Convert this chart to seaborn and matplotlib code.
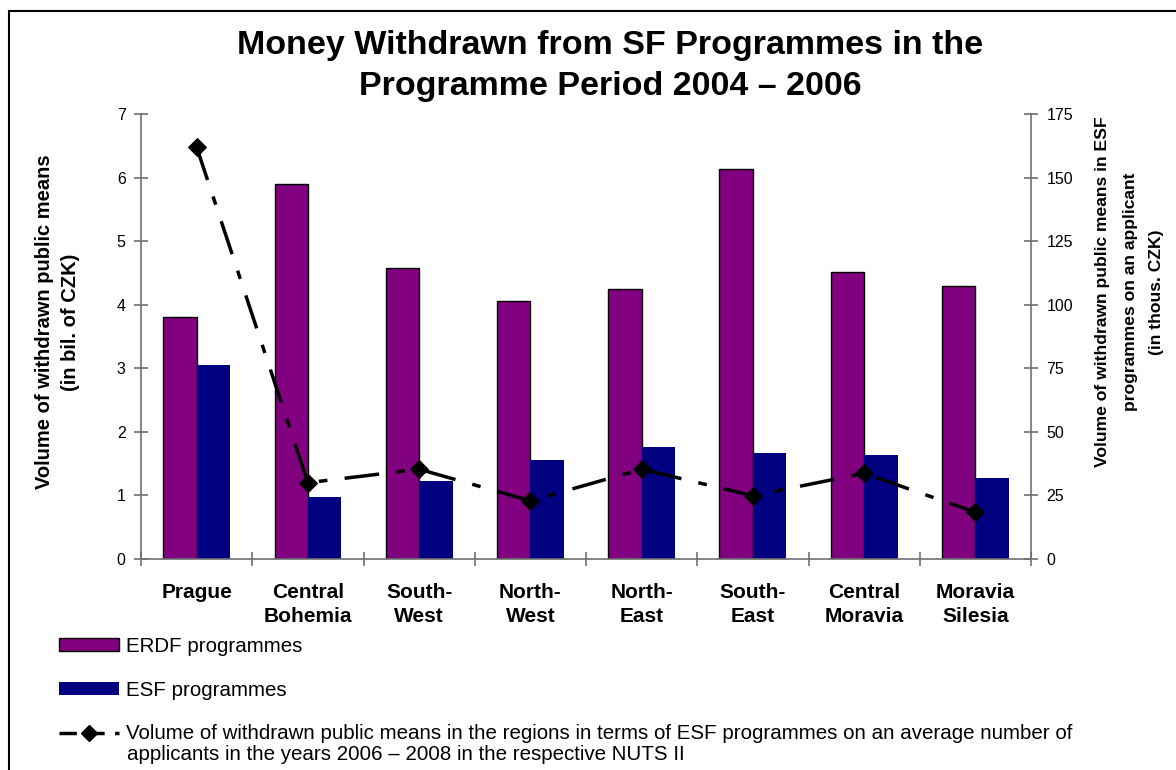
import matplotlib
matplotlib.use("Agg")
import matplotlib.pyplot as plt
import matplotlib.patches as mpatches
from matplotlib.lines import Line2D
import numpy as np
import pandas as pd
import seaborn as sns

# Regions (NUTS II) and the withdrawn volumes
regions = ["Prague", "Central\nBohemia", "South-\nWest", "North-\nWest",
           "North-\nEast", "South-\nEast", "Central\nMoravia", "Moravia\nSilesia"]
erdf_bil = [3.81, 5.90, 4.58, 4.06, 4.24, 6.13, 4.51, 4.30]
esf_bil = [3.05, 0.97, 1.23, 1.56, 1.76, 1.67, 1.64, 1.28]
esf_per_applicant = [162.0, 30.0, 35.3, 22.9, 35.3, 24.9, 33.7, 18.4]

series_names = ["ERDF programmes", "ESF programmes"]
line_label = ("Volume of withdrawn public means in the regions in terms of ESF "
              "programmes on an average number of")
line_label_2 = "applicants in the years 2006 \u2013 2008 in the respective NUTS II"
left_label = ["Volume of withdrawn public means", "(in bil. of CZK)"]
right_label = ["Volume of withdrawn public means in ESF",
               "programmes on an applicant", "(in thous. CZK)"]
title = "Money Withdrawn from SF Programmes in the\nProgramme Period 2004 \u2013 2006"

sns.set_theme(style="white")
plt.rcParams["font.family"] = ["Liberation Sans", "DejaVu Sans"]
for key in ("text.color", "axes.labelcolor", "xtick.color", "ytick.color"):
    plt.rcParams[key] = "black"

bars = pd.DataFrame({
    "region": regions * 2,
    "value": erdf_bil + esf_bil,
    "programme": [series_names[0]] * len(regions) + [series_names[1]] * len(regions),
})
line_df = pd.DataFrame({"region": regions, "value": esf_per_applicant})

W, H = 1176, 770
fig = plt.figure(figsize=(W / 100, H / 100), dpi=100)
ax = fig.add_axes([141 / W, 1 - 559 / H, 890 / W, 445 / H])

sns.barplot(data=bars, x="region", y="value", hue="programme",
            palette=["#800080", "#000080"], width=0.6, gap=0,
            saturation=1, ax=ax, legend=False)
for p in ax.containers[0]:
    p.set_edgecolor("black")
    p.set_linewidth(1.0)
for p in ax.containers[1]:
    p.set_edgecolor("none")

ax2 = ax.twinx()
sns.lineplot(data=line_df, x="region", y="value", sort=False, ax=ax2,
             color="black", linewidth=2.5, marker="D", markersize=9,
             markeredgecolor="black", legend=False)
ax2.lines[0].set_dashes([10, 5, 2.5, 5])

ax.set_xlim(-0.5, len(regions) - 0.5)
ax.set_ylim(0, 7)
ax2.set_ylim(0, 175)
ax.set_yticks(range(0, 8))
ax2.set_yticks(range(0, 176, 25))

spine_col = "#707070"
for a in (ax, ax2):
    for s in a.spines.values():
        s.set_color(spine_col)
        s.set_linewidth(1.2)
    a.spines["top"].set_visible(False)
    a.grid(False)
ax2.spines["left"].set_visible(False)
ax2.spines["bottom"].set_visible(False)
ax.spines["right"].set_visible(False)

ax.tick_params(axis="y", direction="inout", length=10, width=1.2, color=spine_col,
               labelsize=11.5, pad=6, left=True)
ax2.tick_params(axis="y", direction="inout", length=10, width=1.2, color=spine_col,
                labelsize=11.5, pad=6, right=True)

ax.set_xticks(range(len(regions)))
ax.set_xticklabels(regions, fontweight="bold", fontsize=15, linespacing=1.38)
ax.tick_params(axis="x", which="major", length=0, pad=17)
ax.set_xticks(np.arange(-0.5, len(regions)), minor=True)
ax.tick_params(axis="x", which="minor", direction="inout", length=10, width=1.2,
               color=spine_col, bottom=True)
ax.set_xlabel("")
ax.set_ylabel("")
ax2.set_ylabel("")

# Axis titles, one text per line
for xpix, txt in zip([45, 71], left_label):
    fig.text(xpix / W, 1 - 322 / H, txt, rotation=90, ha="center", va="center",
             fontsize=14.5, fontweight="bold")
for xpix, txt in zip([1102, 1130, 1157], right_label):
    fig.text(xpix / W, 1 - 292 / H, txt, rotation=90, ha="center", va="center",
             fontsize=12.6, fontweight="bold")

fig.text(610 / W, 1 - 66 / H, title, ha="center", va="center",
         fontsize=24.5, fontweight="bold", linespacing=1.4)

# Outer frame of the chart area
fig.patches.append(mpatches.Rectangle((9 / W, -0.05), 1.2, 1 - 11 / H + 0.05,
                                      transform=fig.transFigure, fill=False,
                                      edgecolor="black", linewidth=1.5))

handles = [
    mpatches.Patch(facecolor="#800080", edgecolor="black", linewidth=1.0),
    mpatches.Patch(facecolor="#000080", edgecolor="none"),
    Line2D([0], [0], color="black", linewidth=2.5, marker="D", markersize=8,
           dashes=[5, 3]),
]
leg = fig.legend(handles, [series_names[0], series_names[1], line_label],
                 loc="upper left", bbox_to_anchor=(59 / W, 1 - 637 / H),
                 frameon=False, fontsize=14.8, handlelength=2.9, handleheight=0.58,
                 handletextpad=0.38, labelspacing=1.2, borderaxespad=0, borderpad=0)
fig.text(127 / W, 1 - 755 / H, line_label_2, ha="left", va="center", fontsize=14.8)

fig.savefig("out.png", dpi=100)
